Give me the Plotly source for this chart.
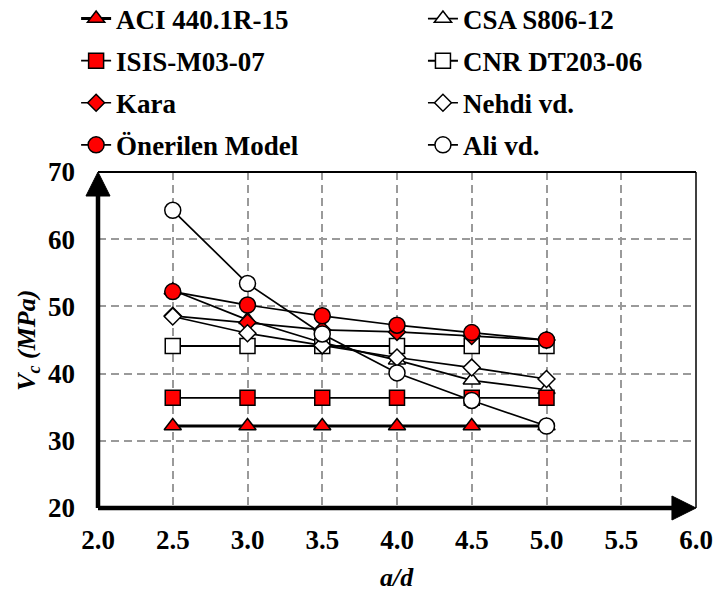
import plotly.graph_objects as go

ad = [2.5, 3.0, 3.5, 4.0, 4.5, 5.0]
aci = [32.2, 32.2, 32.2, 32.2, 32.2, 32.2]
csa = [52.4, 48.0, 44.6, 42.0, 39.0, 37.6]
isis = [36.4, 36.4, 36.4, 36.4, 36.4, 36.4]
cnr = [44.1, 44.1, 44.1, 44.1, 44.1, 44.1]
kara = [48.6, 47.6, 46.5, 46.2, 45.6, 45.0]
nehdi = [48.5, 46.0, 44.2, 42.4, 40.9, 39.2]
model = [52.2, 50.2, 48.6, 47.2, 46.1, 45.0]
ali = [64.3, 53.4, 45.9, 40.1, 36.0, 32.2]

x_ticks = [2.0, 2.5, 3.0, 3.5, 4.0, 4.5, 5.0, 5.5, 6.0]
y_ticks = [20, 30, 40, 50, 60, 70]

FONT = "Liberation Serif"
RED = "#FF0000"

series = [
    # name, values, symbol, fill, size, line width, legend
    ("ACI 440.1R-15", aci, "triangle-up", RED, 15, 3.0, "legend"),
    ("CSA S806-12", csa, "triangle-up", "white", 15, 1.7, "legend2"),
    ("ISIS-M03-07", isis, "square", RED, 15, 1.8, "legend"),
    ("CNR DT203-06", cnr, "square", "white", 15, 2.0, "legend2"),
    ("Kara", kara, "diamond", RED, 13, 1.7, "legend"),
    ("Nehdi vd.", nehdi, "diamond", "white", 13, 1.7, "legend2"),
    ("Önerilen Model", model, "circle", RED, 16, 1.7, "legend"),
    ("Ali vd.", ali, "circle", "white", 16, 1.7, "legend2"),
]

fig = go.Figure()
for i, (name, vals, sym, fill, size, lw, leg) in enumerate(series):
    fig.add_trace(go.Scatter(
        x=ad, y=vals, name=name, mode="lines+markers",
        line=dict(color="black", width=lw),
        marker=dict(symbol=sym, size=size, color=fill,
                    line=dict(color="black", width=1.5)),
        legend=leg, legendgroup=f"g{i}",
    ))

grid_dash = "8px,5px"
legend_font = dict(family=FONT, size=27, color="black", weight="bold")
leg_y = 1 + (172 + 5.5) / 336
fig.update_layout(
    width=715, height=592,
    margin=dict(l=98, r=19, t=172, b=84, autoexpand=False),
    paper_bgcolor="white", plot_bgcolor="white",
    font=dict(family=FONT, size=24, color="black"),
    showlegend=True,
    legend=dict(
        x=-0.0366, xanchor="left", y=leg_y, yanchor="top",
        yref="paper", xref="paper",
        font=legend_font, bgcolor="rgba(0,0,0,0)",
        tracegroupgap=4, traceorder="grouped",
    ),
    legend2=dict(
        x=0.5434, xanchor="left", y=leg_y, yanchor="top",
        yref="paper", xref="paper",
        font=legend_font, bgcolor="rgba(0,0,0,0)",
        tracegroupgap=4, traceorder="grouped",
    ),
    xaxis=dict(
        range=[2, 6], tickvals=x_ticks, ticktext=[f"{v:.1f}" for v in x_ticks],
        showgrid=True, gridcolor="#9a9a9a", gridwidth=1.5, griddash=grid_dash,
        showline=False, zeroline=False, ticks="",
        tickfont=dict(family=FONT, size=27, color="black", weight="bold"),
        ticklabelstandoff=13,
    ),
    yaxis=dict(
        range=[20, 70], tickvals=y_ticks, ticktext=[str(v) for v in y_ticks],
        showgrid=True, gridcolor="#9a9a9a", gridwidth=1.5, griddash=grid_dash,
        showline=False, zeroline=False, ticks="",
        tickfont=dict(family=FONT, size=27, color="black", weight="bold"),
        ticklabelstandoff=22,
    ),
)

shapes = []
# frame: thin top & right border
shapes.append(dict(type="line", xref="paper", yref="paper", x0=0, y0=1, x1=1, y1=1,
                   line=dict(color="black", width=1.8), layer="above"))
shapes.append(dict(type="line", xref="paper", yref="paper", x0=1, y0=0, x1=1, y1=1,
                   line=dict(color="black", width=1.5), layer="above"))
# thick axes
shapes.append(dict(type="line", xref="paper", yref="paper", x0=0, y0=0, x1=0, y1=0.95,
                   line=dict(color="black", width=4.5), layer="above"))
shapes.append(dict(type="line", xref="paper", yref="paper", x0=0, y0=0, x1=0.97, y1=0,
                   line=dict(color="black", width=4.5), layer="above"))
# arrowheads
hw = 12 / 597
hh = 12 / 336
shapes.append(dict(type="path", xref="paper", yref="paper",
                   path=f"M {-hw} {1 - 24/336} L 0 1 L {hw} {1 - 24/336} Z",
                   fillcolor="black", line=dict(color="black", width=1), layer="above"))
shapes.append(dict(type="path", xref="paper", yref="paper",
                   path=f"M {1 - 24/597} {-hh} L 1 0 L {1 - 24/597} {hh} Z",
                   fillcolor="black", line=dict(color="black", width=1), layer="above"))
fig.update_layout(shapes=shapes)

fig.add_annotation(
    text="<b><i>V<sub>c</sub> (MPa)</i></b>", xref="paper", yref="paper",
    x=(28 - 98) / 597, y=0.5, textangle=-90, showarrow=False,
    font=dict(family=FONT, size=26, color="black"), xanchor="center", yanchor="middle",
)
fig.add_annotation(
    text="<b><i>a/d</i></b>", xref="paper", yref="paper",
    x=0.5, y=(508 - 577) / 336, showarrow=False,
    font=dict(family=FONT, size=26, color="black"), xanchor="center", yanchor="middle",
)

fig.write_html("out.html", config={"displayModeBar": False},
               post_script="document.body.style.margin='0';")
